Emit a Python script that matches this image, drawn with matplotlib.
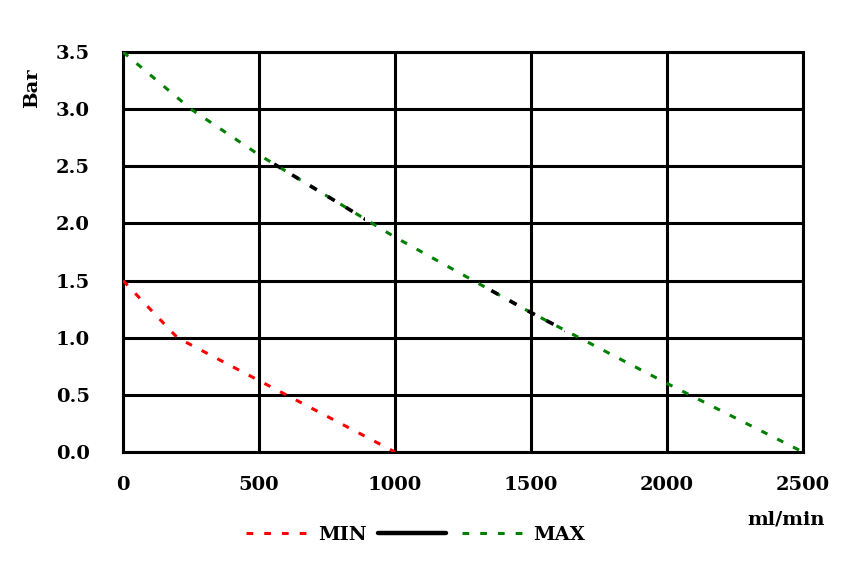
#!/usr/bin/env python

# Import libraries
import matplotlib
matplotlib.use('Agg')
import matplotlib.pyplot as plt
from matplotlib.lines import Line2D
from matplotlib.patches import Rectangle

# Pump curve data
min_flow = [0, 200, 600, 1000]
min_bar = [1.5, 1.0, 0.5, 0.0]

max_flow = [0, 250, 500, 1000, 1500, 2000, 2500]
max_bar = [3.5, 3.0, 2.6, 1.88, 1.22, 0.6, 0.0]

# flow ranges where the MAX curve is drawn in black
black_spans = [(550, 890), (1340, 1625)]

x_ticks = [0, 500, 1000, 1500, 2000, 2500]
y_ticks = [0.0, 0.5, 1.0, 1.5, 2.0, 2.5, 3.0, 3.5]

font = {'family': 'DejaVu Serif', 'weight': 'bold', 'size': 14}
dash = (0, (2.2, 3.6))
lw = 2.2

fig = plt.figure(figsize=(8.5, 5.7), dpi=100)
ax = fig.add_axes([0.1447, 0.2070, 0.80, 0.7018])

ax.plot(min_flow, min_bar, color='red', lw=lw, linestyle=dash, zorder=3)
ax.plot(max_flow, max_bar, color='green', lw=lw, linestyle=dash, zorder=3)

# same curve again in black, clipped to the black stretches
for x0, x1 in black_spans:
    line, = ax.plot(max_flow, max_bar, color='black', lw=lw + 0.4, linestyle=dash, zorder=4)
    clip = Rectangle((x0, -1), x1 - x0, 10, transform=ax.transData)
    line.set_clip_path(clip)

ax.set_xlim(0, 2500)
ax.set_ylim(0, 3.5)
ax.set_xticks(x_ticks)
ax.set_yticks(y_ticks)
ax.set_xticklabels([str(t) for t in x_ticks], fontdict=font)
ax.set_yticklabels([f"{t:.1f}" for t in y_ticks], fontdict=font)
ax.tick_params(length=0)
ax.tick_params(axis='x', pad=17)
ax.tick_params(axis='y', pad=24)

ax.grid(True, color='black', lw=2.2)
ax.set_axisbelow(True)
for s in ax.spines.values():
    s.set_linewidth(2.2)
    s.set_color('black')

fig.text(0.038, 0.845, 'Bar', rotation=90, ha='center', va='center', fontdict=font)
fig.text(0.925, 0.088, 'ml/min', ha='center', va='center', fontdict=font)

# Legend along the bottom
handles = [
    Line2D([], [], color='red', lw=lw, linestyle=dash),
    Line2D([], [], color='black', lw=3.2, solid_capstyle='round'),
    Line2D([], [], color='green', lw=lw, linestyle=dash),
]
fig.legend(handles, ['MIN', '', 'MAX'], loc='center', bbox_to_anchor=(0.489, 0.061),
           ncol=3, frameon=False, prop={'family': 'DejaVu Serif', 'weight': 'bold', 'size': 14},
           handlelength=3.5, handletextpad=0.2, columnspacing=0.6)

fig.savefig('out.png', dpi=100)
